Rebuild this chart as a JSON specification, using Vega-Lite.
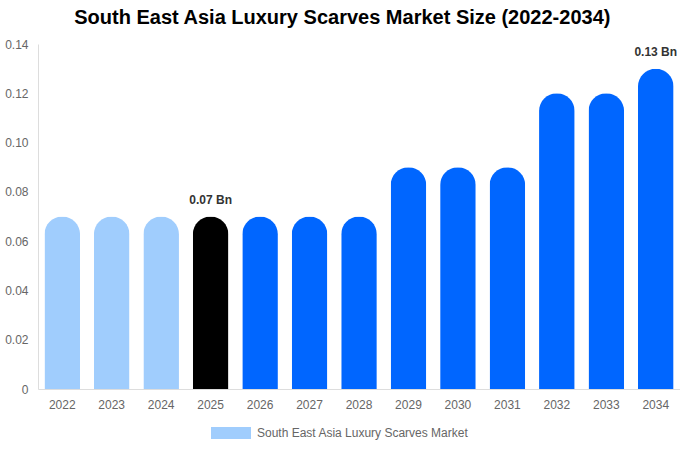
{
  "$schema": "https://vega.github.io/schema/vega-lite/v6.json",
  "autosize": {"type": "fit", "contains": "padding"},
  "width": 680,
  "height": 450,
  "padding": {"left": 4, "right": 0, "top": 8, "bottom": 40},
  "background": "white",
  "title": {
    "text": "South East Asia Luxury Scarves Market Size (2022-2034)",
    "font": "Liberation Sans",
    "fontSize": 20,
    "fontWeight": "bold",
    "color": "#000000",
    "anchor": "middle",
    "frame": "bounds",
    "offset": 10
  },
  "data": {
    "values": [
      {"year": "2022", "value": 0.07, "period": "history", "label": "", "series": "South East Asia Luxury Scarves Market"},
      {"year": "2023", "value": 0.07, "period": "history", "label": "", "series": "South East Asia Luxury Scarves Market"},
      {"year": "2024", "value": 0.07, "period": "history", "label": "", "series": "South East Asia Luxury Scarves Market"},
      {"year": "2025", "value": 0.07, "period": "base", "label": "0.07 Bn", "series": "South East Asia Luxury Scarves Market"},
      {"year": "2026", "value": 0.07, "period": "forecast", "label": "", "series": "South East Asia Luxury Scarves Market"},
      {"year": "2027", "value": 0.07, "period": "forecast", "label": "", "series": "South East Asia Luxury Scarves Market"},
      {"year": "2028", "value": 0.07, "period": "forecast", "label": "", "series": "South East Asia Luxury Scarves Market"},
      {"year": "2029", "value": 0.09, "period": "forecast", "label": "", "series": "South East Asia Luxury Scarves Market"},
      {"year": "2030", "value": 0.09, "period": "forecast", "label": "", "series": "South East Asia Luxury Scarves Market"},
      {"year": "2031", "value": 0.09, "period": "forecast", "label": "", "series": "South East Asia Luxury Scarves Market"},
      {"year": "2032", "value": 0.12, "period": "forecast", "label": "", "series": "South East Asia Luxury Scarves Market"},
      {"year": "2033", "value": 0.12, "period": "forecast", "label": "", "series": "South East Asia Luxury Scarves Market"},
      {"year": "2034", "value": 0.13, "period": "forecast", "label": "0.13 Bn", "series": "South East Asia Luxury Scarves Market"}
    ]
  },
  "encoding": {
    "x": {
      "field": "year",
      "type": "ordinal",
      "title": null,
      "scale": {"paddingInner": 0.28, "paddingOuter": 0.13},
      "axis": {
        "labelAngle": 0,
        "labelColor": "#666666",
        "labelFontSize": 12,
        "labelPadding": 10,
        "ticks": false,
        "domainColor": "#dddddd",
        "grid": false
      }
    },
    "y": {
      "field": "value",
      "type": "quantitative",
      "title": null,
      "scale": {"domain": [0, 0.14]},
      "axis": {
        "values": [0, 0.02, 0.04, 0.06, 0.08, 0.1, 0.12, 0.14],
        "labelExpr": "datum.value == 0 ? '0' : format(datum.value, '.2f')",
        "labelColor": "#666666",
        "labelFontSize": 12,
        "labelPadding": 10,
        "ticks": false,
        "grid": false,
        "domainColor": "#dddddd"
      }
    }
  },
  "layer": [
    {
      "mark": {"type": "bar", "cornerRadiusTopLeft": 18, "cornerRadiusTopRight": 18},
      "encoding": {
        "color": {
          "field": "period",
          "type": "nominal",
          "scale": {"domain": ["history", "base", "forecast"], "range": ["#a0cdfd", "#000000", "#0066ff"]},
          "legend": null
        }
      }
    },
    {
      "mark": {"type": "point", "opacity": 0, "filled": true},
      "encoding": {
        "fill": {
          "field": "series",
          "type": "nominal",
          "scale": {"range": ["#a0cdfd"]},
          "legend": {
            "title": null,
            "orient": "none",
            "legendX": 173,
            "legendY": 369,
            "direction": "horizontal",
            "symbolType": "M-1,-0.3L1,-0.3L1,0.3L-1,0.3Z",
            "symbolSize": 1600,
            "symbolOpacity": 1,
            "symbolStrokeWidth": 0,
            "labelColor": "#666666",
            "labelFontSize": 12,
            "labelLimit": 400,
            "labelOffset": 6
          }
        }
      }
    },
    {
      "transform": [{"filter": "datum.label != ''"}],
      "mark": {"type": "text", "dy": -10, "baseline": "bottom", "fontWeight": "bold", "fontSize": 12, "color": "#333333"},
      "encoding": {"text": {"field": "label"}}
    }
  ],
  "config": {
    "font": "Liberation Sans",
    "view": {"stroke": null}
  }
}
